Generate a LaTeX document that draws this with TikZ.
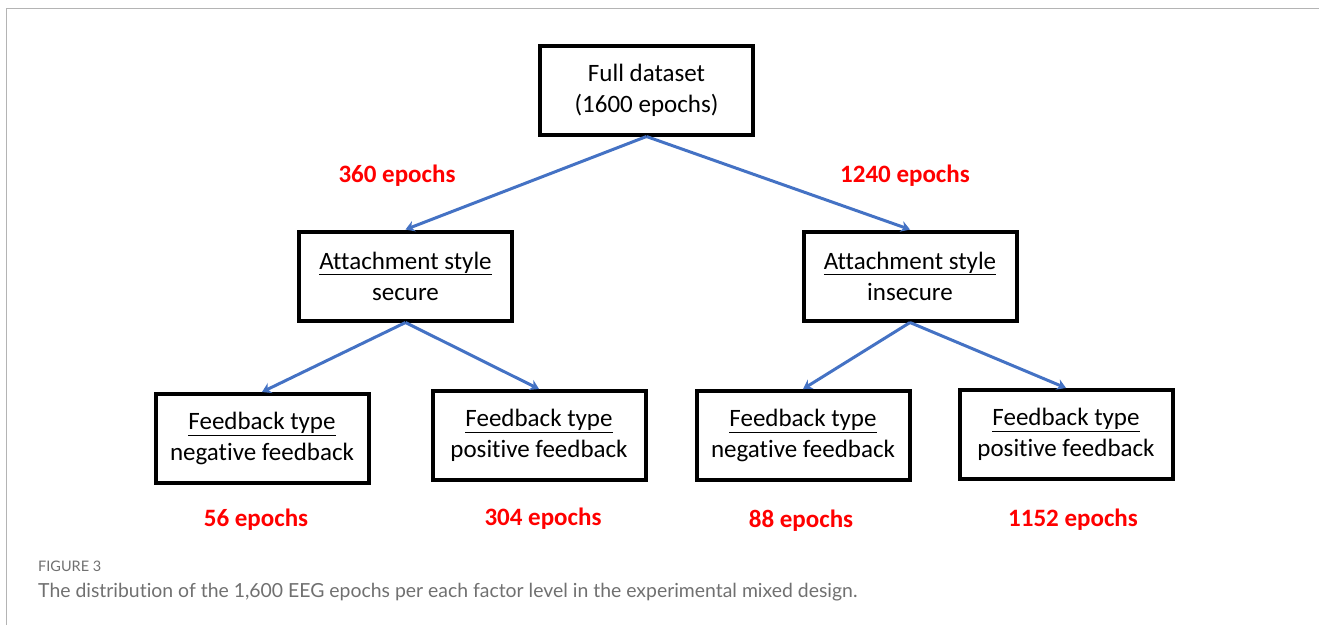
\documentclass[tikz,border=0pt]{standalone}
\usepackage{fontspec}
\setmainfont[Ligatures=NoCommon]{Carlito}
\newfontfamily\capfont[Ligatures=NoCommon]{Lato}
\usetikzlibrary{arrows.meta}
\definecolor{linkblue}{HTML}{4472C4}
\definecolor{capgray}{HTML}{707070}
\definecolor{framegray}{HTML}{B4B4B4}
\begin{document}
\begin{tikzpicture}[x=1pt,y=-1pt,
  box/.style={draw=black, line width=4pt, minimum width=213pt, minimum height=89pt,
              align=center, inner sep=0pt, font=\fontsize{25}{31}\selectfont},
  link/.style={draw=linkblue, line width=3pt, -{Stealth[length=9pt,width=11pt]}},
  count/.style={text=red, anchor=base, font=\bfseries\fontsize{25}{30}\selectfont},
  every node/.style={text=black}]
\useasboundingbox (0,0) rectangle (1319,625);
% panel frame
\draw[framegray, line width=1.5pt] (6.5,625) -- (6.5,8.5) -- (1319,8.5);

% tree boxes
\node[box] (full) at (646.5,90) {Full dataset\\(1600 epochs)};
\node[box] (sec) at (405.5,276) {\underline{Attachment style}\\secure};
\node[box] (insec) at (910,276) {\underline{Attachment style}\\insecure};
\node[box] (sneg) at (262,438.5) {\underline{Feedback type}\\negative feedback};
\node[box] (spos) at (539,435.5) {\underline{Feedback type}\\positive feedback};
\node[box] (ineg) at (803,435.5) {\underline{Feedback type}\\negative feedback};
\node[box] (ipos) at (1066,434.5) {\underline{Feedback type}\\positive feedback};

% connectors
\draw[link] (full.south) -- (sec.north);
\draw[link] (full.south) -- (insec.north);
\draw[link] (sec.south) -- (sneg.north);
\draw[link] (sec.south) -- (spos.north);
\draw[link] (insec.south) -- (ineg.north);
\draw[link] (insec.south) -- (ipos.north);

% epoch counts
\node[count] (c360) at (397,182) {360 epochs};
\node[count] (c1240) at (905,182) {1240 epochs};
\node[count] (c56) at (256,526) {56 epochs};
\node[count] (c304) at (543,525) {304 epochs};
\node[count] (c88) at (801,527) {88 epochs};
\node[count] (c1152) at (1073,526) {1152 epochs};

% caption
\node[anchor=base west, inner sep=0pt, text=capgray, font=\capfont\fontsize{14.5}{16}\selectfont] (figlabel) at (38,571) {FIGURE 3};
\node[anchor=base west, inner sep=0pt, text=capgray, font=\capfont\fontsize{19.4}{22}\selectfont] (figcap) at (38,597)
  {The distribution of the 1,600 EEG epochs per each factor level in the experimental mixed design.};
\end{tikzpicture}
\end{document}
